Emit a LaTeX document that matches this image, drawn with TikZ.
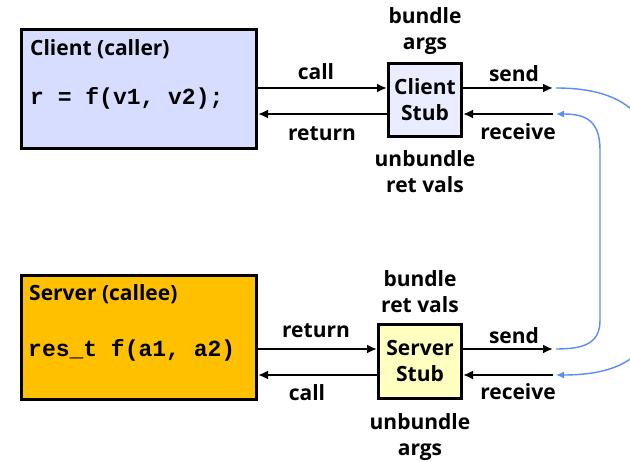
\documentclass[tikz,border=0pt]{standalone}
\usepackage{fontspec}
\setmainfont{Open Sans}
\setmonofont{Liberation Mono}
\usetikzlibrary{arrows.meta}

\definecolor{clientblue}{RGB}{214,221,255}
\definecolor{stubblue}{RGB}{234,237,255}
\definecolor{serverorange}{RGB}{255,192,0}
\definecolor{stubyellow}{RGB}{255,255,192}
\definecolor{wireblue}{RGB}{90,140,245}

\tikzset{
  box/.style={draw=black, line width=2.8pt, inner sep=0pt},
  flow/.style={line width=2.8pt, -{Latex[length=10pt,width=9pt]}},
  wire/.style={wireblue, line width=1.4pt, -{Latex[length=8pt,width=7pt]}},
  lbl/.style={font=\fontsize{21}{26}\selectfont\bfseries, inner sep=0pt},
  code/.style={font=\fontsize{23}{26}\selectfont\ttfamily\bfseries, inner sep=0pt},
}

\begin{document}
\begin{tikzpicture}[x=1pt,y=-1pt]
        \useasboundingbox (0,0) rectangle (630,462);

        % Boxes
        \node[box, fill=clientblue, minimum width=235.2pt, minimum height=119.2pt] (client) at (139,89) {};
        \node[box, fill=serverorange, minimum width=235.2pt, minimum height=124.2pt] (server) at (139,337.5) {};
        \node[box, lbl, fill=stubblue, align=center, minimum width=73.2pt, minimum height=73.2pt] (cstub) at (425,100) {Client\\Stub};
        \node[box, lbl, fill=stubyellow, align=center, minimum width=83.2pt, minimum height=74.2pt] (sstub) at (420,361.5) {Server\\Stub};

        % Text in the big boxes
        \node[lbl, anchor=base west]  (ctitle) at (30,56)  {Client (caller)};
        \node[code, anchor=base west] (ccode)  at (30,105) {r = f(v1, v2);};
        \node[lbl, anchor=base west]  (stitle) at (29,301) {Server (callee)};
        \node[code, anchor=base west] (scode)  at (28,357) {res\_t f(a1, a2)};

        % Rows of the arrows
        \coordinate (upC)  at (0,88);
        \coordinate (lowC) at (0,114);
        \coordinate (upS)  at (0,349);
        \coordinate (lowS) at (0,375);
        \coordinate (csend) at (553,88);
        \coordinate (crecv) at (553,114);
        \coordinate (ssend) at (553,349);
        \coordinate (srecv) at (553,375);

        % Client side
        \draw[flow] (client.east |- upC) -- (cstub.west |- upC);
        \draw[flow] (cstub.west |- lowC) -- (client.east |- lowC);
        \draw[flow] (cstub.east |- upC) -- (csend);
        \draw[flow] (crecv) -- (cstub.east |- lowC);

        % Server side
        \draw[flow] (server.east |- upS) -- (sstub.west |- upS);
        \draw[flow] (sstub.west |- lowS) -- (server.east |- lowS);
        \draw[flow] (sstub.east |- upS) -- (ssend);
        \draw[flow] (srecv) -- (sstub.east |- lowS);

        % Labels
        \node[lbl, anchor=base] (ccall)    at (316,80)  {call};
        \node[lbl, anchor=base] (creturn)  at (322,141) {return};
        \node[lbl, anchor=base] (csendl)   at (514,82)  {send};
        \node[lbl, anchor=base] (crecvl)   at (518,140) {receive};
        \node[lbl, anchor=base] (sreturn)  at (316,338) {return};
        \node[lbl, anchor=base] (scall)    at (307,401) {call};
        \node[lbl, anchor=base] (ssendl)   at (514,344) {send};
        \node[lbl, anchor=base] (srecvl)   at (518,400) {receive};

        \node[lbl, anchor=north, align=center] (cbundle)   at (425,7)   {bundle\\args};
        \node[lbl, anchor=north, align=center] (cunbundle) at (425,150) {unbundle\\ret vals};
        \node[lbl, anchor=north, align=center] (sbundle)   at (420,270) {bundle\\ret vals};
        \node[lbl, anchor=north, align=center] (sunbundle) at (420,413) {unbundle\\args};

        % Network
        \begin{scope}
          \clip (0,0) rectangle (630,462);
          \draw[wire] ([xshift=3pt]csend) .. controls (640,88) and (660,130) .. (660,200)
                      -- (660,280) .. controls (660,340) and (640,375) .. ([xshift=3pt]srecv);
          \draw[wire] ([xshift=3pt]ssend) .. controls (585,349) and (600,343) .. (600,320)
                      -- (600,150) .. controls (600,120) and (585,114) .. ([xshift=3pt]crecv);
        \end{scope}
\end{tikzpicture}
\end{document}
